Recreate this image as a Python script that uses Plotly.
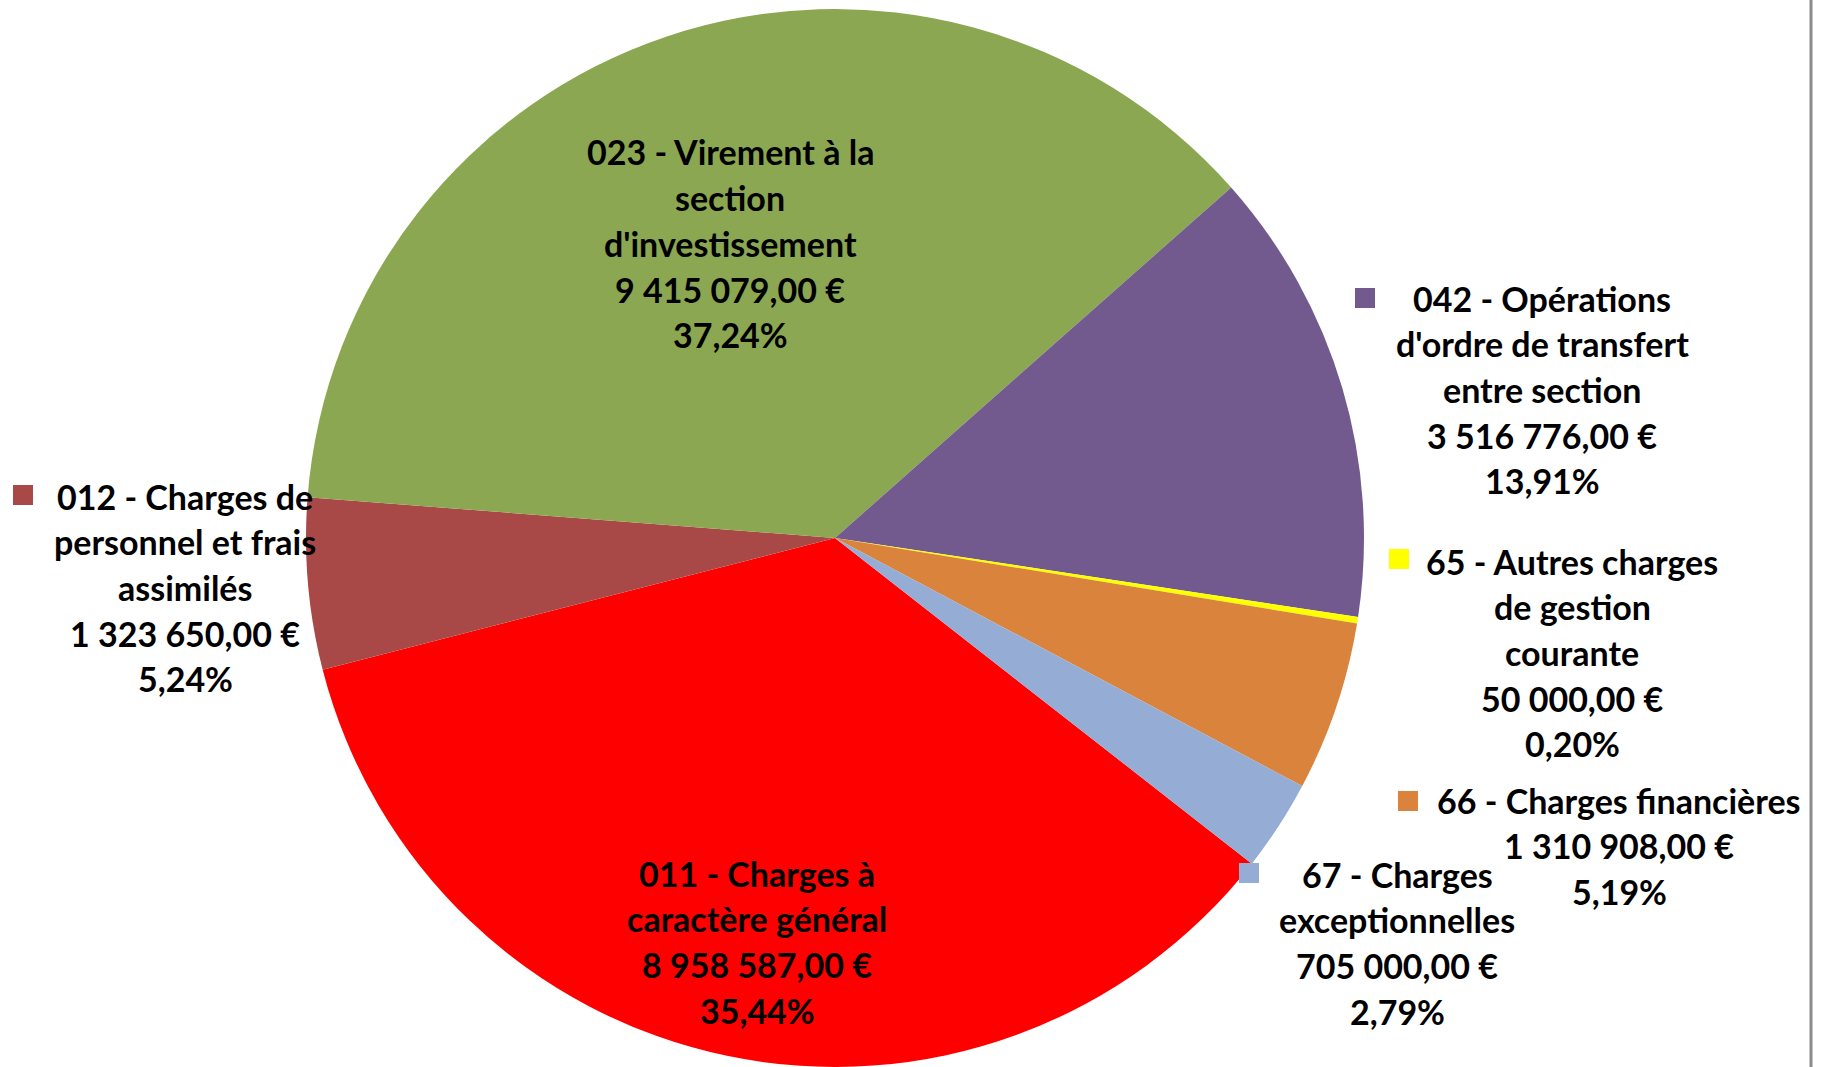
import plotly.graph_objects as go

# ---- data ----
categories = [
    "011 - Charges à caractère général",
    "012 - Charges de personnel et frais assimilés",
    "023 - Virement à la section d'investissement",
    "042 - Opérations d'ordre de transfert entre section",
    "65 - Autres charges de gestion courante",
    "66 - Charges financières",
    "67 - Charges exceptionnelles",
]
values = [8958587.00, 1323650.00, 9415079.00, 3516776.00, 50000.00, 1310908.00, 705000.00]
wrapped_names = [
    ["011 - Charges à", "caractère général"],
    ["012 - Charges de", "personnel et frais", "assimilés"],
    ["023 - Virement à la", "section", "d'investissement"],
    ["042 - Opérations", "d'ordre de transfert", "entre section"],
    ["65 - Autres charges", "de gestion", "courante"],
    ["66 - Charges financières"],
    ["67 - Charges", "exceptionnelles"],
]
colors = ["#FF0000", "#A84947", "#8BA751", "#725A8F", "#FFFF00", "#DA833D", "#95ACD5"]

# ---- layout helpers (pixel positions of label blocks) ----
W, H = 1824, 1067
label_pos = [  # (center x, y of first line)
    (757, 873),
    (185, 496),
    (730, 152),
    (1542, 298),
    (1572, 561),
    (1619, 800),
    (1397, 874),
]
key_pos = [None, (13, 485), None, (1355, 288), (1389, 549), (1398, 791), (1239, 863)]
LINE = 45.7
KEY = 20


def fmt_eur(v):
    return f"{v:,.2f}".replace(",", " ").replace(".", ",") + " €"


total = sum(values)

fig = go.Figure(go.Pie(
    labels=categories,
    values=values,
    marker=dict(colors=colors, line=dict(width=0)),
    sort=False,
    direction="clockwise",
    rotation=128,
    textinfo="none",
    hoverinfo="skip",
    showlegend=False,
    domain=dict(x=[306 / W, 1364 / W], y=[0, 1058 / H]),
))

annotations = []
shapes = []
for i, v in enumerate(values):
    pct = f"{v / total * 100:.2f}".replace(".", ",") + "%"
    lines = wrapped_names[i] + [fmt_eur(v), pct]
    cx, y0 = label_pos[i]
    for k, txt in enumerate(lines):
        py = y0 + k * LINE
        annotations.append(dict(
            x=cx / W, y=1 - py / H, xref="paper", yref="paper",
            text=txt, showarrow=False, xanchor="center", yanchor="middle",
            font=dict(family="Lato", size=34, color="#000000", weight="bold"),
        ))
    if key_pos[i] is not None:
        kx, ky = key_pos[i]
        shapes.append(dict(
            type="rect", xref="paper", yref="paper",
            x0=kx / W, x1=(kx + KEY) / W, y0=1 - (ky + KEY) / H, y1=1 - ky / H,
            fillcolor=colors[i], line=dict(width=0),
        ))

shapes.append(dict(type="line", xref="paper", yref="paper",
                   x0=1811 / W, x1=1811 / W, y0=0, y1=1,
                   line=dict(color="#8C8C8C", width=3)))

fig.update_layout(
    width=W, height=H,
    margin=dict(l=0, r=0, t=0, b=0),
    paper_bgcolor="white",
    plot_bgcolor="white",
    annotations=annotations,
    shapes=shapes,
)

fig.write_html(
    "out.html",
    config={"displayModeBar": False},
    post_script="document.body.style.margin='0';document.body.style.overflow='hidden';",
)
